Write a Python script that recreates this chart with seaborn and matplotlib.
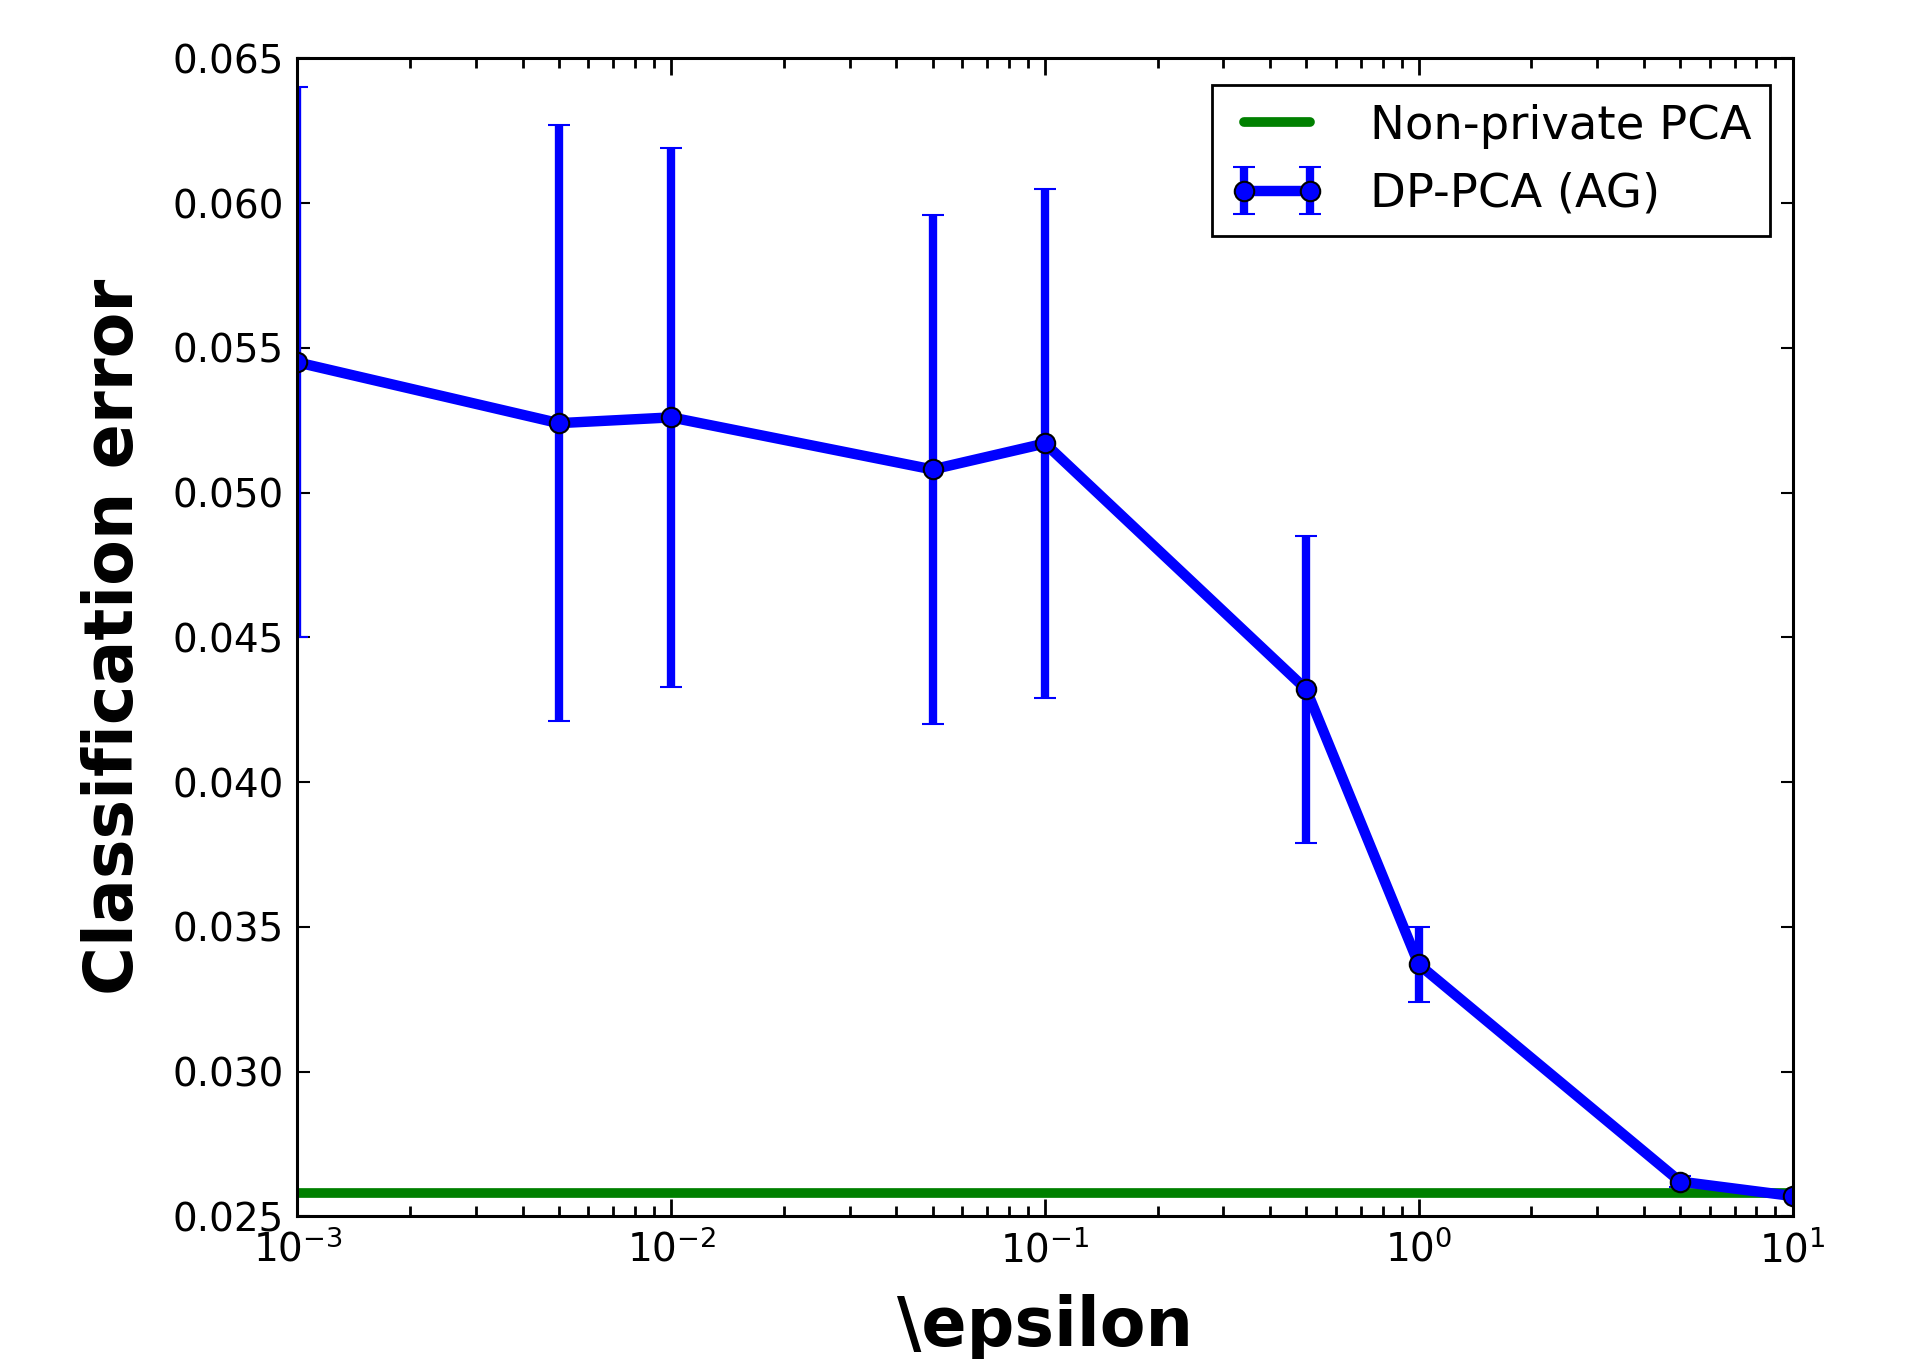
import matplotlib
matplotlib.use("Agg")
import matplotlib.pyplot as plt
import seaborn as sns
import numpy as np
from matplotlib.ticker import FormatStrFormatter, LogLocator

# data
epsilon = [0.001, 0.005, 0.01, 0.05, 0.1, 0.5, 1.0, 5.0, 10.0]
dp_pca_err = [0.0545, 0.0524, 0.0526, 0.0508, 0.0517, 0.0432, 0.0337, 0.0262, 0.0257]
dp_pca_std = [0.0095, 0.0103, 0.0093, 0.0088, 0.0088, 0.0053, 0.0013, 0.0002, 0.0001]
nonpriv_x = [0.001, 10.0]
nonpriv_err = [0.0258, 0.0258]

sns.set_style("ticks")
plt.rcParams['font.family'] = ['DejaVu Sans']
plt.rcParams['text.color'] = 'black'
plt.rcParams['axes.labelcolor'] = 'black'
plt.rcParams['xtick.color'] = 'black'
plt.rcParams['ytick.color'] = 'black'
plt.rcParams['xtick.direction'] = 'in'
plt.rcParams['ytick.direction'] = 'in'
plt.rcParams['xtick.top'] = True
plt.rcParams['ytick.right'] = True

fig, ax = plt.subplots(figsize=(19.07, 13.59), dpi=100)
fig.subplots_adjust(left=0.156, right=0.940, bottom=0.105, top=0.957)

# Non-private baseline
sns.lineplot(x=nonpriv_x, y=nonpriv_err, color='#008000', linewidth=7,
             label='Non-private PCA', ax=ax)

# DP-PCA with error bars
ax.errorbar(epsilon, dp_pca_err, yerr=dp_pca_std, color='#0000ff', linewidth=7.5,
            elinewidth=6, capsize=8, capthick=2.5, marker='o', markersize=14,
            markerfacecolor='#0000ff', markeredgecolor='black', markeredgewidth=1.5,
            label='DP-PCA (AG)')

ax.set_xscale('log')
ax.set_xlim(1e-3, 1e1)
ax.set_ylim(0.025, 0.065)
ax.xaxis.set_major_locator(LogLocator(base=10))
ax.xaxis.set_minor_locator(LogLocator(base=10, subs=np.arange(2, 10) * 1.0, numticks=50))
ax.set_yticks(np.arange(0.025, 0.0651, 0.005))
ax.yaxis.set_major_formatter(FormatStrFormatter('%.3f'))

ax.tick_params(axis='y', which='major', length=9, width=1.5, labelsize=28, pad=10)
ax.xaxis.set_tick_params(which='major', length=12, width=2, labelsize=28, pad=10,
                         top=True, bottom=True, color='black')
ax.xaxis.set_tick_params(which='minor', length=7, width=2, top=True, bottom=True,
                         color='black')
for s in ax.spines.values():
    s.set_linewidth(2.2)
    s.set_color('black')

ax.set_xlabel('\\epsilon', fontsize=48, fontweight='bold', labelpad=17)
ax.set_ylabel('Classification error', fontsize=48, fontweight='bold', labelpad=18)

handles, labels = ax.get_legend_handles_labels()
leg = ax.legend(handles, labels, loc='upper right', fontsize=33.5, numpoints=2,
                fancybox=False, framealpha=1, edgecolor='black',
                handlelength=2.0, borderpad=0.4, handletextpad=1.0,
                borderaxespad=0, bbox_to_anchor=(0.985, 0.977))
leg.get_frame().set_linewidth(2)

fig.savefig('out.png', dpi=100)
